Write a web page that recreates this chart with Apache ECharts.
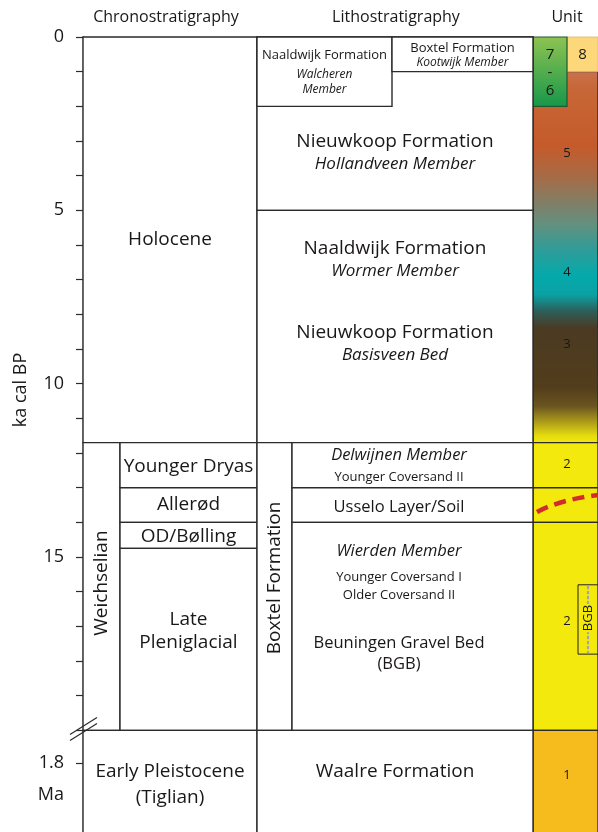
<!DOCTYPE html>
<html><head><meta charset="utf-8">
<script src="https://cdn.jsdelivr.net/npm/echarts@6/dist/echarts.min.js"></script>
<style>html,body{margin:0;padding:0;background:#fff}#c{width:598px;height:832px}</style>
</head><body><div id="c"></div>
<script>
// ---------------- DATA ----------------
const tickAges = [0,1,2,3,4,5,6,7,8,9,10,11,12,13,14,15,16,17,18,19,20];
const tickLabelAges = [0,5,10,15];
const breakAge = 20;
const pleistoTickAge = 20.94;         // 1.8 Ma, drawn below the axis break
const pleistoTickLabel = '1.8';
const pleistoTickUnit = 'Ma';
const axisMaxAge = 22.93;

const headers = ['Chronostratigraphy','Lithostratigraphy','Unit'];
const yTitle = 'ka cal BP';

const chronoNames = ['Holocene','Weichselian','Younger Dryas','Allerød','OD/Bølling','Late\nPleniglacial','Early Pleistocene\n(Tiglian)'];
const chronoTop   = [0, 11.7, 11.7, 13.0, 14.0, 14.75, 20];
const chronoBase  = [11.7, 20, 13.0, 14.0, 14.75, 20, 23.3];
const chronoRank  = ['series','stage','substage','substage','substage','substage','series'];
const chronoLabelAge = [5.83, 15.75, 12.4, 13.5, 14.42, 17.13, 21.55];

const lithoBoxTop  = [0, 5, 0, 0, 11.7, 11.7, 13.0, 14.0, 20];
const lithoBoxBase = [5, 11.7, 2, 1, 20, 13.0, 14.0, 20, 23.3];
const lithoBoxZone = ['litho','litho','walcheren','kootwijk','boxtel','member','member','member','litho'];

const lithoTexts = ['Naaldwijk Formation','Walcheren\nMember','Boxtel Formation','Kootwijk Member',
  'Nieuwkoop Formation','Hollandveen Member','Naaldwijk Formation','Wormer Member',
  'Nieuwkoop Formation','Basisveen Bed','Boxtel Formation',
  'Delwijnen Member','Younger Coversand II','Usselo Layer/Soil',
  'Wierden Member','Younger Coversand I','Older Coversand II',
  'Beuningen Gravel Bed\n(BGB)','Waalre Formation'];
const lithoTextAge = [0.52, 1.31, 0.32, 0.75, 3.03, 3.66, 6.11, 6.75, 8.54, 9.17, 15.6,
  12.06, 12.69, 13.56, 14.83, 15.58, 16.1, 17.78, 21.2];
const lithoTextZone = ['walcheren','walcheren','kootwijk','kootwijk','litho','litho','litho','litho',
  'litho','litho','boxtel','member','member','member','member','member','member','member','litho'];
const lithoTextKind = ['formation','member','formation','member','formation','member','formation','member',
  'formation','member','formation','member','bed','formation','member','bed','bed','formation','formation'];

const unitIds  = ['5-3','8','7-6','2','2','2','1'];
const unitTop  = [1, 0, 0, 11.7, 13.0, 14.0, 20];
const unitBase = [11.7, 1, 2, 13.0, 14.0, 20, 23.3];

const unitLabels   = ['8','7\n-\n6','5','4','3','2','2','1'];
const unitLabelAge = [0.52, 1.04, 3.35, 6.8, 8.85, 12.32, 16.85, 21.3];
const unitLabelZone= ['right','left','full','full','full','full','full','full'];

const bgbTop = 15.8, bgbBase = 17.8, bgbLabel = 'BGB', bgbLabelAge = 16.76;
const usseloTraceAge = [13.70, 13.41, 13.21];

// ---------------- LAYOUT / STYLE ----------------
const FONT = "'Open Sans', sans-serif";
const INK = '#1a1718';
const LINE = '#2b2b2b';
const LW = 1.4;
const X = {chronoL:0, weichR:37, chronoR:174, boxtelR:209, walchR:309, lithoR:450, unitMid:484, unitR:515};
const zoneX = {
  stage:[X.chronoL,X.weichR], substage:[X.weichR,X.chronoR], series:[X.chronoL,X.chronoR],
  litho:[X.chronoR,X.lithoR], walcheren:[X.chronoR,X.walchR], kootwijk:[X.walchR,X.lithoR],
  boxtel:[X.chronoR,X.boxtelR], member:[X.boxtelR,X.lithoR],
  full:[X.lithoR,X.unitR], left:[X.lithoR,X.unitMid], right:[X.unitMid,X.unitR]
};
const mid = z => (zoneX[z][0]+zoneX[z][1])/2;
const textMid = z => z==='member' ? 316 : mid(z);

const holoceneGradient = {type:'linear',x:0,y:0,x2:0,y2:1,colorStops:[
  {offset:0,color:'#c9724b'},{offset:0.05,color:'#c76637'},{offset:0.2,color:'#c55b2b'},
  {offset:0.28,color:'#a86a44'},{offset:0.36,color:'#7e8068'},{offset:0.41,color:'#64907e'},
  {offset:0.48,color:'#2f9c98'},{offset:0.55,color:'#05a9ab'},{offset:0.6,color:'#0aa2a4'},
  {offset:0.645,color:'#2d5e5a'},{offset:0.69,color:'#4b3a22'},{offset:0.85,color:'#523d1c'},
  {offset:0.9,color:'#6a5520'},{offset:0.95,color:'#b8a818'},{offset:0.98,color:'#e6dc0e'},{offset:1,color:'#f4e90d'}]};
const greenGradient = {type:'linear',x:0,y:0,x2:0,y2:1,colorStops:[{offset:0,color:'#8fc352'},{offset:1,color:'#17974a'}]};
const unitFill = {'5-3':holoceneGradient,'8':'#fdd87a','7-6':greenGradient,'2':'#f4e90d','1':'#f6bb1d'};
const unitZone = {'5-3':'full','8':'right','7-6':'left','2':'full','1':'full'};

function rectShape(api, x0, x1, a0, a1){
  const p0 = api.coord([x0,a0]), p1 = api.coord([x1,a1]);
  return {x:p0[0], y:p0[1], width:p1[0]-p0[0], height:p1[1]-p0[1]};
}

const unitSeries = {
  type:'custom', silent:true, z:1, clip:false,
  data: unitIds.map((id,i)=>[zoneX[unitZone[id]][0], zoneX[unitZone[id]][1], unitTop[i], unitBase[i]]),
  renderItem(params, api){
    const id = unitIds[params.dataIndex];
    const s = rectShape(api, api.value(0), api.value(1), api.value(2), api.value(3));
    let stroke = LINE, lw = LW;
    if (id==='7-6'){ stroke='#1f5a30'; lw=1.2; }
    if (id==='8'){ stroke='#d9b870'; lw=0.8; }
    return {type:'rect', shape:s, style:{fill:unitFill[id], stroke:stroke, lineWidth:lw}};
  }
};

const boxRender = (params, api) => ({type:'rect',
  shape:rectShape(api, api.value(0), api.value(1), api.value(2), api.value(3)),
  style:{fill:'#fff', stroke:LINE, lineWidth:LW}});

const chronoBoxSeries = {
  type:'custom', silent:true, z:2, clip:false,
  data: chronoNames.map((n,i)=>[zoneX[chronoRank[i]][0], zoneX[chronoRank[i]][1], chronoTop[i], chronoBase[i]]),
  renderItem: boxRender
};

const lithoBoxSeries = {
  type:'custom', silent:true, z:2, clip:false,
  data: lithoBoxTop.map((t,i)=>[zoneX[lithoBoxZone[i]][0], zoneX[lithoBoxZone[i]][1], t, lithoBoxBase[i]]),
  renderItem: boxRender
};

const chronoTextSeries = {
  type:'custom', silent:true, z:5,
  data: chronoNames.map((n,i)=>[mid(chronoRank[i]), chronoLabelAge[i]]),
  renderItem(params, api){
    const i = params.dataIndex, p = api.coord([api.value(0), api.value(1)]);
    const rank = chronoRank[i];
    return {type:'text', x:p[0], y:p[1], rotation: rank==='stage'?Math.PI/2:0,
      style:{text:chronoNames[i], fill:INK, fontFamily:FONT, fontSize: 19,
        align:'center', verticalAlign:'middle', lineHeight: rank==='series'?26:23}};
  }
};

const lithoTextSeries = {
  type:'custom', silent:true, z:5,
  data: lithoTexts.map((t,i)=>[textMid(lithoTextZone[i]), lithoTextAge[i]]),
  renderItem(params, api){
    const i = params.dataIndex, p = api.coord([api.value(0), api.value(1)]);
    const zone = lithoTextZone[i], kind = lithoTextKind[i];
    const small = (zone==='walcheren'||zone==='kootwijk');
    let size, italic = kind==='member';
    if (small) size = kind==='formation'?13:12;
    else if (zone==='boxtel') size = 19;
    else if (zone==='member') size = kind==='bed'?13:16.5;
    else size = kind==='formation'?19:17;
    return {type:'text', x:p[0], y:p[1], rotation: zone==='boxtel'?Math.PI/2:0,
      style:{text:lithoTexts[i], fill:INK, fontFamily:FONT, fontSize:size, fontStyle: italic?'italic':'normal',
        align:'center', verticalAlign:'middle', lineHeight: small?15:21}};
  }
};

const unitTextSeries = {
  type:'custom', silent:true, z:5,
  data: unitLabels.map((t,i)=>[mid(unitLabelZone[i]), unitLabelAge[i]]),
  renderItem(params, api){
    const i = params.dataIndex, p = api.coord([api.value(0), api.value(1)]);
    const big = unitLabelZone[i] !== 'full';
    return {type:'text', x:p[0]+(big?0:1.5), y:p[1],
      style:{text:unitLabels[i], fill:INK, fontFamily:FONT, fontSize: big?15:13,
        align:'center', verticalAlign:'middle', lineHeight:18}};
  }
};

const markerSeries = {
  type:'custom', silent:true, z:6, clip:false,
  data:[[0]],
  renderItem(params, api){
    const box = rectShape(api, 495, 520, bgbTop, bgbBase);
    const cx = api.coord([505, bgbLabelAge]);
    const lineTop = api.coord([505, bgbTop]), lineBot = api.coord([505, bgbBase]);
    const xs = [X.lithoR+4, X.lithoR+30, X.unitR];
    const pts = usseloTraceAge.map((a,k)=>api.coord([xs[k], a]));
    const b = api.coord([X.chronoL, breakAge]);
    return {type:'group', children:[
      {type:'rect', shape:box, style:{fill:'none', stroke:'#222', lineWidth:1}},
      {type:'line', shape:{x1:lineTop[0],y1:lineTop[1]+2,x2:lineBot[0],y2:lineBot[1]-2},
        style:{stroke:'#a3a3b5', lineWidth:2.2, lineDash:[1.5,3.5], lineCap:'round'}},
      {type:'text', x:cx[0], y:cx[1], rotation:Math.PI/2,
        style:{text:bgbLabel, fill:INK, fontFamily:FONT, fontSize:13, align:'center', verticalAlign:'middle',
          backgroundColor:'#f4e90d', padding:[0,1]}},
      {type:'bezierCurve', shape:{x1:pts[0][0],y1:pts[0][1], x2:pts[2][0],y2:pts[2][1],
          cpx1:pts[1][0]-4, cpy1:pts[1][1]-2}, style:{stroke:'#d22b2b', fill:'none', lineWidth:4.5, lineDash:[12,7]}},
      {type:'line', shape:{x1:b[0]-13,y1:b[1]+10,x2:b[0]+14,y2:b[1]-7}, style:{stroke:LINE,lineWidth:1.2}},
      {type:'line', shape:{x1:b[0]-13,y1:b[1]+4,x2:b[0]+14,y2:b[1]-13}, style:{stroke:LINE,lineWidth:1.2}}
    ]};
  }
};

const chart = echarts.init(document.getElementById('c'), null, {renderer:'canvas'});
chart.setOption({
  animation:false,
  backgroundColor:'#fff',
  grid:{left:83, right:0, top:37, bottom:0},
  xAxis:{type:'value', min:0, max:X.unitR, show:false},
  yAxis:{type:'value', inverse:true, min:0, max:axisMaxAge,
    axisLine:{show:true, lineStyle:{color:LINE, width:LW}},
    axisTick:{show:true, length:7, customValues: tickAges.concat([pleistoTickAge]), lineStyle:{color:LINE, width:1.2}},
    axisLabel:{show:true, customValues: tickLabelAges.concat([pleistoTickAge]), margin:19,
      color:INK, fontFamily:FONT, fontSize:18, lineHeight:32,
      formatter: v => (Math.abs(v-pleistoTickAge)<1e-6) ? '\n'+pleistoTickLabel+'\n'+pleistoTickUnit : String(v)},
    splitLine:{show:false}},
  graphic:[
    {type:'text', x:166, y:17, style:{text:headers[0], fill:INK, fontFamily:FONT, fontSize:16, align:'center', verticalAlign:'middle'}},
    {type:'text', x:396, y:17, style:{text:headers[1], fill:INK, fontFamily:FONT, fontSize:16, align:'center', verticalAlign:'middle'}},
    {type:'text', x:567, y:17, style:{text:headers[2], fill:INK, fontFamily:FONT, fontSize:16, align:'center', verticalAlign:'middle'}},
    {type:'text', x:21, y:390, rotation:Math.PI/2, style:{text:yTitle, fill:INK, fontFamily:FONT, fontSize:18, align:'center', verticalAlign:'middle'}}
  ],
  series:[unitSeries, chronoBoxSeries, lithoBoxSeries, chronoTextSeries, lithoTextSeries, unitTextSeries, markerSeries]
});
</script></body></html>
